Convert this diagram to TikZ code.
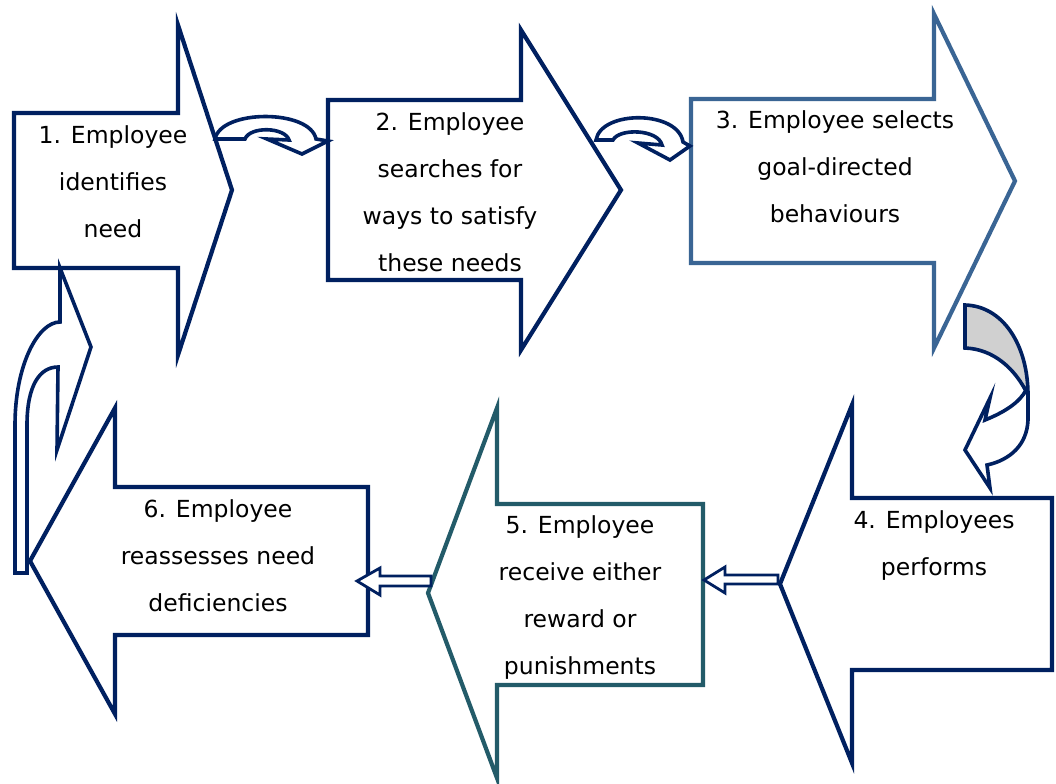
\documentclass[tikz,border=0pt]{standalone}
\usepackage{fontspec}
\setmainfont{DejaVu Sans}
\usepackage{xcolor}
\usetikzlibrary{positioning}
\definecolor{navy}{HTML}{002060}
\definecolor{steelblue}{HTML}{3A6594}
\definecolor{deepteal}{HTML}{235B69}
\definecolor{shadegrey}{HTML}{D0D0D0}
\tikzset{
  every picture/.append style={line join=miter},
  block arrow/.style={draw=navy,line width=2.1pt,fill=white},
  curved link/.style={draw=navy,line width=1.8pt,fill=white},
  small link/.style={draw=navy,line width=1.4pt,fill=white},
  stage text/.style={font=\fontsize{11.75}{23.5}\selectfont,align=center,anchor=north,inner sep=0pt,text=black}
}

\begin{document}
\begin{tikzpicture}[x=0.5pt,y=-0.5pt]
\useasboundingbox (0,0) rectangle (1056,783);
% top row, pointing right
\draw[block arrow] (14,113) -- (178,113) -- (178,25) -- (232,190) -- (178,355) -- (178,268) -- (14,268) -- cycle;
\draw[block arrow] (328,100) -- (521,100) -- (521,30) -- (621,190) -- (521,350) -- (521,280) -- (328,280) -- cycle;
\draw[block arrow,draw=steelblue] (691,99) -- (934,99) -- (934,14) -- (1015,181) -- (934,348) -- (934,263) -- (691,263) -- cycle;
% bottom row, pointing left
\draw[block arrow] (1052,498) -- (852,498) -- (852,405) -- (780,584) -- (852,763) -- (852,670) -- (1052,670) -- cycle;
\draw[block arrow,draw=deepteal] (703,504) -- (497,504) -- (497,408) -- (428,593) -- (497,778) -- (497,685) -- (703,685) -- cycle;
\draw[block arrow] (368,487) -- (115,487) -- (115,408) -- (30,561) -- (115,714) -- (115,635) -- (368,635) -- cycle;

\node[stage text] (identify) at (113,125) {1. Employee\\identifies\\need};
\node[stage text] (search) at (450,112) {2. Employee\\searches for\\ways to satisfy\\these needs};
\node[stage text] (select) at (835,110) {3. Employee selects\\goal-directed\\behaviours};
\node[stage text] (perform) at (934,510) {4. Employees\\performs};
\node[stage text] (outcome) at (580,515) {5. Employee\\receive either\\reward or\\punishments};
\node[stage text] (reassess) at (218,499) {6. Employee\\reassesses need\\deficiencies};

% curved links along the top row
\draw[curved link] (215,139) .. controls (221,109) and (310,109) .. (316,139) -- (328,141) -- (302,154) -- (267,139) -- (289,140) .. controls (285,127) and (250,126) .. (245,139) -- cycle;
\draw[curved link] (596,140) .. controls (601,110) and (678,110) .. (683,142) -- (690,146) -- (670,160) -- (638,143) -- (662,145) .. controls (658,129) and (619,128) .. (613,140) -- cycle;

% turn down from 3 to 4
\draw[curved link] (1028,392) -- (1028,420) .. controls (1027,445) and (1010,460) .. (987,465) -- (990,488) -- (965,450) -- (990,398) -- (985,420) .. controls (1005,412) and (1020,402) .. (1026,390) -- cycle;
\draw[curved link,fill=shadegrey] (965,305) .. controls (1003,306) and (1028,345) .. (1028,395) .. controls (1015,368) and (993,349) .. (965,348) -- cycle;

% straight links along the bottom row
\draw[small link] (778,575) -- (725,575) -- (725,567) -- (704,580) -- (725,593) -- (725,584) -- (778,584) -- cycle;
\draw[small link] (431,576) -- (380,576) -- (380,568) -- (357,581) -- (380,595) -- (380,586) -- (431,586) -- cycle;

% back up from 6 to 1
\draw[curved link] (60,268) -- (91,347) -- (57,450) -- (58,367) .. controls (40,367) and (27,385) .. (27,425) -- (27,573) -- (15,573) -- (15,425) .. controls (15,365) and (38,322) .. (60,322) -- cycle;
\end{tikzpicture}
\end{document}
